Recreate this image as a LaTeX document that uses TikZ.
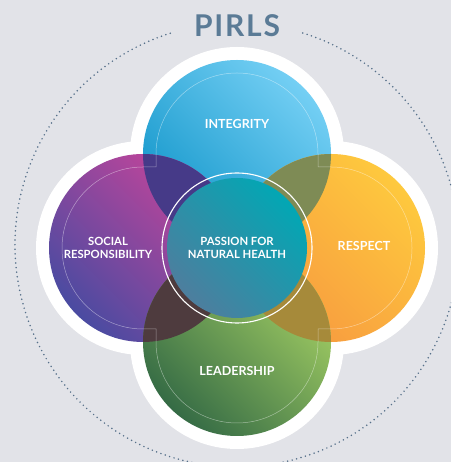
\documentclass[tikz,border=0pt]{standalone}
\usepackage{fontspec}
\setmainfont{Lato}
\newfontfamily\titlefont[LetterSpace=6]{Lato}
\definecolor{bg}{HTML}{E2E3E8}
\definecolor{dotc}{HTML}{56708A}
\definecolor{titlec}{HTML}{5B7B96}
\definecolor{topA}{HTML}{1296CA}\definecolor{topB}{HTML}{74CFF4}
\definecolor{leftA}{HTML}{4A4BA1}\definecolor{leftB}{HTML}{C9449A}
\definecolor{rightA}{HTML}{F7983F}\definecolor{rightB}{HTML}{FEC93E}
\definecolor{botA}{HTML}{356B45}\definecolor{botB}{HTML}{A6D164}
\definecolor{cenA}{HTML}{4D7E9E}\definecolor{cenB}{HTML}{02A7B4}
\definecolor{lensTL}{HTML}{463A88}
\definecolor{lensTR}{HTML}{7E8B55}
\definecolor{lensLB}{HTML}{4E3B3E}
\definecolor{lensRB}{HTML}{A68A3A}
\tikzset{
  halo/.style={fill=white},
  lbl/.style={text=white, font=\bfseries\fontsize{12.5}{14}\selectfont, align=center, inner sep=0pt},
  lblsmall/.style={text=white, font=\bfseries\fontsize{11.3}{13.5}\selectfont, align=center, inner sep=0pt},
  thinline/.style={draw=white, draw opacity=0.45, line width=0.5pt},
  ring/.style={draw=white, line width=1.1pt},
  dots/.style={draw=dotc, line width=1.7pt, line cap=round, dash pattern=on 0pt off 4.6pt}
}
\begin{document}
\begin{tikzpicture}[x=1pt,y=1pt]
\useasboundingbox (0,0) rectangle (451,462);
\fill[bg] (0,0) rectangle (451,462);
\clip (0,0) rectangle (451,462);
\coordinate (C) at (237,214);
\coordinate (T) at (237,308);
\coordinate (L) at (143,214);
\coordinate (R) at (331,214);
\coordinate (B) at (237,120);
% dotted circle
\draw[dots] (237,217) ++(107.5:222pt) arc[start angle=107.5, end angle=433.5, radius=222pt];
% title
\node[text=titlec, font=\titlefont\bfseries\fontsize{30}{30}\selectfont] (title) at (237,436) {PIRLS};
% halos
\foreach \p in {T,L,R,B} \fill[halo] (\p) circle[radius=107pt];
% circles
\shade[top color=topB, bottom color=topA, shading angle=-45] (T) circle[radius=94pt];
\shade[top color=leftB, bottom color=leftA, shading angle=-45] (L) circle[radius=94pt];
\shade[top color=rightB, bottom color=rightA, shading angle=-45] (R) circle[radius=94pt];
\shade[top color=botB, bottom color=botA, shading angle=-45] (B) circle[radius=94pt];
% lenses
\begin{scope}\clip (T) circle[radius=94pt]; \fill[lensTL] (L) circle[radius=94pt]; \fill[lensTR] (R) circle[radius=94pt];\end{scope}
\begin{scope}\clip (B) circle[radius=94pt]; \fill[lensLB] (L) circle[radius=94pt]; \fill[lensRB] (R) circle[radius=94pt];\end{scope}
% thin inner outline
\draw[thinline] (156,295) -- (156,308) arc[start angle=180, end angle=0, radius=81pt]
  -- (318,295) -- (331,295) arc[start angle=90, end angle=-90, radius=81pt]
  -- (318,133) -- (318,120) arc[start angle=0, end angle=-180, radius=81pt]
  -- (156,133) -- (143,133) arc[start angle=270, end angle=90, radius=81pt] -- cycle;
% center
\shade[top color=cenB, bottom color=cenA, shading angle=-45] (C) circle[radius=70pt];
\draw[ring] (C) circle[radius=75pt];
% labels
\node[lbl] (integrity) at (237,338) {INTEGRITY};
\node[lblsmall] (social) at (108,214) {SOCIAL\\RESPONSIBILITY};
\node[lbl] (respect) at (364,216) {RESPECT};
\node[lbl] (leadership) at (237,91) {LEADERSHIP};
\node[lblsmall] (passion) at (237,214) {PASSION FOR\\NATURAL HEALTH};
\end{tikzpicture}
\end{document}
